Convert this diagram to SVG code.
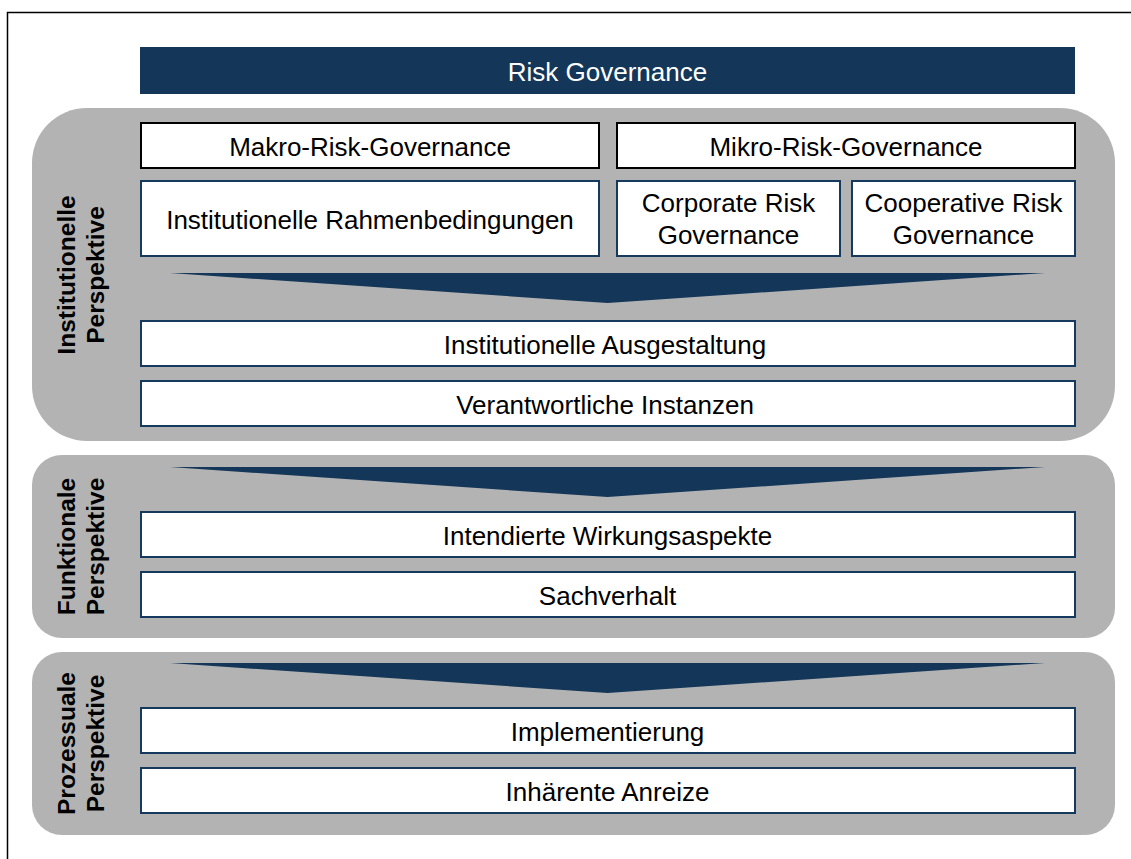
<svg xmlns="http://www.w3.org/2000/svg" width="1131" height="859" viewBox="0 0 1131 859">
<style>
.panel{fill:#b3b3b3}
.box{fill:#ffffff;stroke:#163a5e;stroke-width:2}
.boxk{fill:#ffffff;stroke:#000000;stroke-width:2}
.navy{fill:#133659}
.t{font-family:"Liberation Sans",Arial,sans-serif;font-size:26px;fill:#000;text-anchor:middle}
.w{fill:#ffffff}
.v{font-family:"Liberation Sans",Arial,sans-serif;font-size:24.5px;font-weight:bold;fill:#000;text-anchor:middle}
</style>
<rect width="1131" height="859" fill="#ffffff"/>
<path d="M7.5 859 V12.5 H1131" fill="none" stroke="#000" stroke-width="1.5"/>

<g id="header">
<rect class="navy" x="140" y="47" width="935" height="47"/>
<text class="t w" x="607.5" y="80.5">Risk Governance</text>
</g>

<g id="panel-institutionell">
<rect class="panel" x="32" y="108" width="1083" height="333" rx="55" ry="55"/>
<text class="v" transform="translate(75,275) rotate(-90)">Institutionelle</text>
<text class="v" transform="translate(104,275) rotate(-90)">Perspektive</text>
</g>
<g id="panel-funktional">
<rect class="panel" x="32" y="455" width="1083" height="183" rx="30" ry="30"/>
<text class="v" transform="translate(75,546.5) rotate(-90)">Funktionale</text>
<text class="v" transform="translate(104,546.5) rotate(-90)">Perspektive</text>
</g>
<g id="panel-prozessual">
<rect class="panel" x="32" y="652" width="1083" height="183" rx="30" ry="30"/>
<text class="v" transform="translate(75,743.5) rotate(-90)">Prozessuale</text>
<text class="v" transform="translate(104,743.5) rotate(-90)">Perspektive</text>
</g>

<g id="makro">
<rect class="boxk" x="141" y="123" width="458" height="45"/>
<text class="t" x="370" y="155.5">Makro-Risk-Governance</text>
</g>
<g id="mikro">
<rect class="boxk" x="617" y="123" width="458" height="45"/>
<text class="t" x="846" y="155.5">Mikro-Risk-Governance</text>
</g>
<g id="rahmen">
<rect class="box" x="141" y="181" width="458" height="75"/>
<text class="t" x="370" y="228.5">Institutionelle Rahmenbedingungen</text>
</g>
<g id="corporate">
<rect class="box" x="617" y="181" width="223" height="75"/>
<text class="t" x="728.5" y="212">Corporate Risk</text>
<text class="t" x="728.5" y="243.5">Governance</text>
</g>
<g id="cooperative">
<rect class="box" x="852" y="181" width="223" height="75"/>
<text class="t" x="963.5" y="212">Cooperative Risk</text>
<text class="t" x="963.5" y="243.5">Governance</text>
</g>

<g id="connectors">
<polygon class="navy" points="170,273 1045,273 607.5,303"/>
<polygon class="navy" points="170,467 1045,467 607.5,497"/>
<polygon class="navy" points="170,663 1045,663 607.5,693"/>
</g>

<g id="ausgestaltung">
<rect class="box" x="141" y="321" width="934" height="45"/>
<text class="t" x="605" y="353.5">Institutionelle Ausgestaltung</text>
</g>
<g id="instanzen">
<rect class="box" x="141" y="381" width="934" height="45"/>
<text class="t" x="605" y="413.5">Verantwortliche Instanzen</text>
</g>
<g id="wirkung">
<rect class="box" x="141" y="512" width="934" height="45"/>
<text class="t" x="607.5" y="544.5">Intendierte Wirkungsaspekte</text>
</g>
<g id="sachverhalt">
<rect class="box" x="141" y="572" width="934" height="45"/>
<text class="t" x="607.5" y="604.5">Sachverhalt</text>
</g>
<g id="implementierung">
<rect class="box" x="141" y="708" width="934" height="45"/>
<text class="t" x="607.5" y="740.5">Implementierung</text>
</g>
<g id="anreize">
<rect class="box" x="141" y="768" width="934" height="45"/>
<text class="t" x="607.5" y="800.5">Inhärente Anreize</text>
</g>
</svg>
